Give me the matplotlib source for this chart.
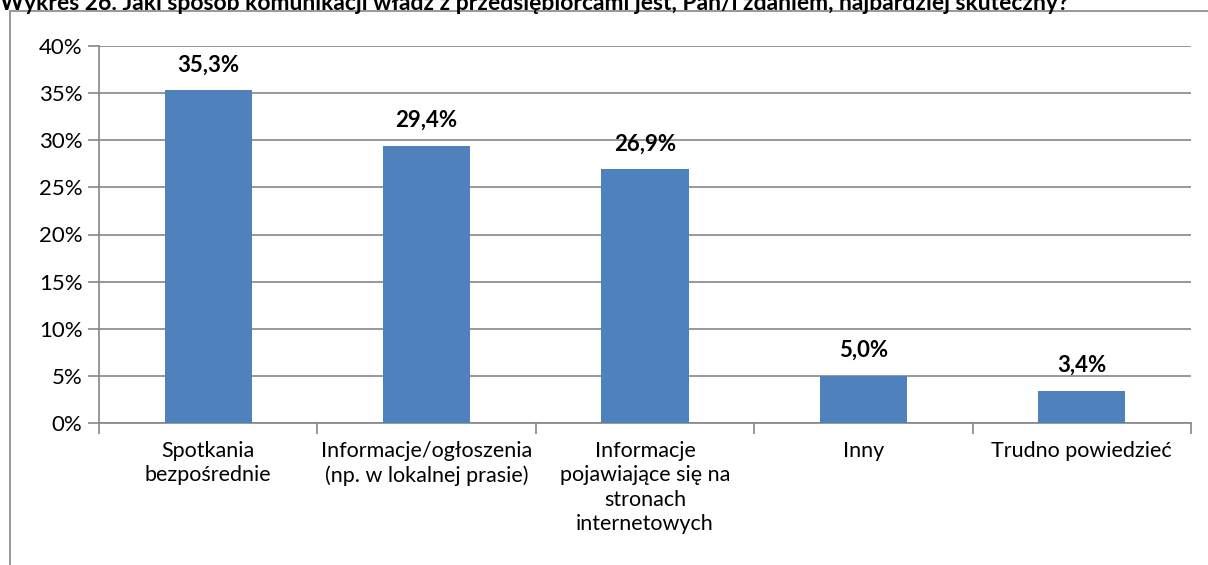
"""Wykres 26 - skuteczność sposobów komunikacji."""

import matplotlib.pyplot as plt
import matplotlib.patches as mpatches
import numpy as np

categories = [
    "Spotkania\nbezpośrednie",
    "Informacje/ogłoszenia\n(np. w lokalnej prasie)",
    "Informacje\npojawiające się na\nstronach\ninternetowych",
    "Inny",
    "Trudno powiedzieć",
]
values = [35.3, 29.4, 26.9, 5.0, 3.4]
value_labels = ["35,3%", "29,4%", "26,9%", "5,0%", "3,4%"]
y_ticks = [0, 5, 10, 15, 20, 25, 30, 35, 40]

title = ("Wykres 26. Jaki sposób komunikacji władz z przedsiębiorcami jest, "
         "Pan/i zdaniem, najbardziej skuteczny?")

plt.rcParams["font.family"] = ["Lato", "DejaVu Sans"]

fig = plt.figure(figsize=(12.08, 5.65), dpi=100)
W, H = 1208, 565

# outer chart frame (runs off the right and bottom edges)
frame = mpatches.Rectangle((10 / W, -0.1), 1.2, 1 - 11 / H + 0.1,
                           transform=fig.transFigure, fill=False,
                           edgecolor="#868686", linewidth=1.2)
fig.patches.append(frame)

# cropped title: only its lower half shows
fig.text(0.0, 1 - 3 / H, title, ha="left", va="center", fontsize=16.5,
         fontweight="bold")

ax = fig.add_axes([99 / W, 1 - 423 / H, (1191 - 99) / W, (423 - 46) / H])

x = np.arange(len(categories))
ax.bar(x, values, width=0.4, color="#4F81BD", zorder=3)

for xi, v, lbl in zip(x, values, value_labels):
    ax.text(xi, v + 1.6, lbl, ha="center", va="bottom", fontsize=16,
            fontweight="bold")

ax.set_xlim(-0.5, len(categories) - 0.5)
ax.set_ylim(0, 40)
ax.set_yticks(y_ticks)
ax.set_yticklabels([f"{t}%" for t in y_ticks], fontsize=16)
ax.yaxis.grid(True, color="#868686", linewidth=1.2, zorder=0)

ax.set_xticks(x)
ax.set_xticklabels(categories, fontsize=15.5, linespacing=1.27)
ax.set_xticks(np.arange(-0.5, len(categories)), minor=True)
ax.tick_params(axis="x", which="major", length=0, pad=13)
ax.tick_params(axis="x", which="minor", length=8, color="#868686", width=1.2)
ax.tick_params(axis="y", length=8, color="#868686", width=1.2, pad=4)

for side in ["top", "right"]:
    ax.spines[side].set_visible(False)
for side in ["left", "bottom"]:
    ax.spines[side].set_color("#868686")
    ax.spines[side].set_linewidth(1.2)

plt.savefig("out.png", dpi=100)
